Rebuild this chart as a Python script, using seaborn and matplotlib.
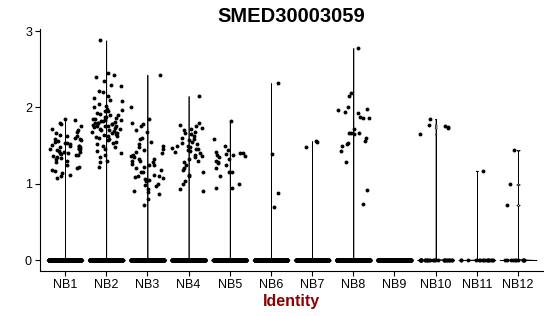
import numpy as np
import pandas as pd
import matplotlib
matplotlib.use("Agg")
import matplotlib.pyplot as plt
import seaborn as sns

np.random.seed(7)

categories = ["NB1", "NB2", "NB3", "NB4", "NB5", "NB6", "NB7", "NB8", "NB9", "NB10", "NB11", "NB12"]
zero_counts = [400, 400, 400, 400, 400, 400, 400, 400, 400, 28, 16, 11]

nb1 = [1.84, 1.85, 1.80, 1.78, 1.75, 1.72, 1.70, 1.68, 1.66, 1.64, 1.62, 1.60, 1.58, 1.57,
       1.56, 1.55, 1.54, 1.53, 1.52, 1.51, 1.50, 1.50, 1.49, 1.48, 1.47, 1.46, 1.45, 1.45,
       1.44, 1.43, 1.42, 1.41, 1.40, 1.40, 1.39, 1.38, 1.37, 1.36, 1.35, 1.34, 1.32, 1.30,
       1.28, 1.25, 1.22, 1.20, 1.18, 1.17, 1.14, 1.12, 1.10, 1.08, 1.48, 1.58, 1.62]
nb2 = [2.88, 2.45, 2.42, 2.40, 2.35, 2.30, 2.28, 2.22, 2.20, 2.15, 2.12, 2.10, 2.08, 2.05,
       2.02, 2.00, 1.98, 1.97, 1.95, 1.93, 1.92, 1.90, 1.90, 1.88, 1.87, 1.86, 1.85, 1.84,
       1.83, 1.82, 1.81, 1.80, 1.80, 1.79, 1.78, 1.77, 1.76, 1.76, 1.75, 1.74, 1.73, 1.72,
       1.72, 1.71, 1.70, 1.69, 1.68, 1.67, 1.66, 1.65, 1.64, 1.63, 1.62, 1.61, 1.60, 1.58,
       1.57, 1.55, 1.53, 1.52, 1.50, 1.48, 1.45, 1.43, 1.40, 1.38, 1.35, 1.30, 1.28, 1.22,
       1.78, 1.75, 1.82, 1.85, 1.95]
nb3 = [2.43, 2.01, 1.85, 1.80, 1.78, 1.76, 1.70, 1.68, 1.60, 1.58, 1.55, 1.52, 1.50, 1.48,
       1.45, 1.42, 1.40, 1.38, 1.36, 1.35, 1.33, 1.32, 1.30, 1.28, 1.26, 1.25, 1.22, 1.20,
       1.18, 1.16, 1.15, 1.12, 1.10, 1.10, 1.09, 1.08, 1.06, 1.05, 1.03, 1.00, 0.98, 0.97,
       0.93, 0.90, 0.89, 0.86, 0.80, 0.72, 1.30, 1.24, 1.44]
nb4 = [2.15, 1.80, 1.77, 1.75, 1.73, 1.72, 1.70, 1.68, 1.66, 1.65, 1.62, 1.60, 1.58, 1.57,
       1.55, 1.53, 1.52, 1.50, 1.50, 1.48, 1.47, 1.45, 1.43, 1.42, 1.40, 1.38, 1.36, 1.35,
       1.33, 1.30, 1.28, 1.25, 1.20, 1.18, 1.15, 1.12, 1.10, 1.04, 1.00, 0.93, 0.90, 1.46, 1.44]
nb5 = [1.82, 1.58, 1.50, 1.44, 1.42, 1.40, 1.39, 1.38, 1.37, 1.36, 1.35, 1.32, 1.30, 1.28,
       1.27, 1.25, 1.20, 1.16, 1.15, 1.10, 1.00, 0.95, 0.94, 1.40]
nb6 = [2.32, 1.39, 0.88, 0.70]
nb7 = [1.55, 1.48, 1.56]
nb8 = [2.78, 2.19, 2.15, 2.00, 1.98, 1.94, 1.93, 1.97, 1.86, 1.86, 1.87, 1.72, 1.66, 1.67,
       1.66, 1.65, 1.60, 1.54, 1.56, 1.52, 1.50, 1.43, 1.28, 0.92, 0.74]
nb9 = []
nb10 = [1.85, 1.73, 1.65, 1.74, 1.77, 1.76]
nb11 = [1.17]
nb12 = [1.44, 0.99, 0.72]
nonzero_values = [nb1, nb2, nb3, nb4, nb5, nb6, nb7, nb8, nb9, nb10, nb11, nb12]

title = "SMED30003059"
x_label = "Identity"
y_ticks = [0, 1, 2, 3]

rows_ident = []
rows_expr = []
for cat, nz, vals in zip(categories, zero_counts, nonzero_values):
    rows_ident += [cat] * (nz + len(vals))
    rows_expr += [0.0] * nz + list(vals)
df = pd.DataFrame({"ident": rows_ident, "expr": rows_expr})

sns.set_style("white")
plt.rcParams["font.family"] = ["Liberation Sans", "DejaVu Sans"]

fig = plt.figure(figsize=(5.5, 3.16), dpi=100)
ax = fig.add_axes([0.0733, 0.1424, 0.9135, 0.7649])

sns.violinplot(data=df, x="ident", y="expr", order=categories, density_norm="width",
               cut=0, bw_adjust=0.02, gridsize=600, inner=None, color="white",
               linecolor="black", linewidth=0.5, width=0.9, ax=ax)
sns.stripplot(data=df, x="ident", y="expr", order=categories, jitter=0.4,
              color="black", size=2.8, linewidth=0, ax=ax, zorder=3)

ax.set_xlim(-0.6, 11.6)
ax.set_ylim(-0.144, 3.024)
ax.set_yticks(y_ticks)
ax.set_yticklabels([str(t) for t in y_ticks])
for s in ["top", "right"]:
    ax.spines[s].set_visible(False)
for s in ["left", "bottom"]:
    ax.spines[s].set_color("black")
    ax.spines[s].set_linewidth(0.8)
ax.tick_params(axis="both", which="both", length=3.5, width=0.8, color="black",
               labelsize=9, labelcolor="black", pad=2.5, left=True, bottom=True)
ax.set_xlabel(x_label, fontsize=11.5, fontweight="bold", color="#8B0000", labelpad=2)
ax.set_ylabel("")
ax.set_title(title, fontsize=14.5, fontweight="bold", color="black", pad=5)

fig.savefig("out.png", dpi=100)
